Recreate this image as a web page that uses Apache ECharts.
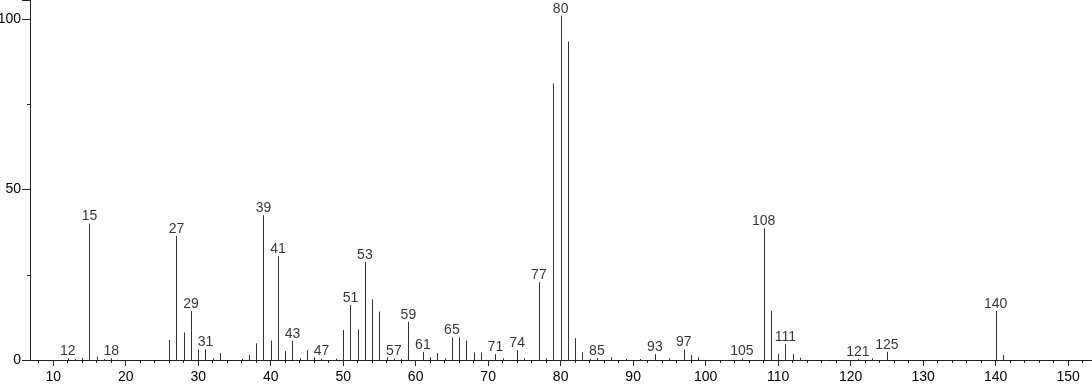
<!DOCTYPE html>
<html>
<head>
<meta charset="utf-8">
<script src="https://cdn.jsdelivr.net/npm/echarts@6/dist/echarts.min.js"></script>
<style>
html,body{margin:0;padding:0;background:#fff;}
#chart{width:1092px;height:384px;}
</style>
</head>
<body>
<div id="chart"></div>
<script>
const mz = [12,13,14,15,16,17,18,26,27,28,29,30,31,32,33,36,37,38,39,40,41,42,43,44,45,46,47,49,50,51,52,53,54,55,56,57,58,59,61,62,63,64,65,66,67,68,69,71,72,74,75,77,78,79,80,81,82,83,84,85,87,89,91,93,95,97,98,99,105,108,109,110,111,112,113,121,123,125,140,141];
const intensity = [0.5,0.3,0.6,40,1.0,0.3,0.5,5.9,36.4,8.1,14.4,3.1,3.1,0.5,2.0,0.3,1.5,4.9,42.5,5.7,30.5,2.6,5.6,0.5,2.9,0.8,0.4,0.4,8.8,16.1,9.0,28.8,17.8,14.2,0.8,0.5,0.3,11.2,2.4,0.8,2.0,0.5,6.6,6.6,5.7,2.2,2.2,1.7,0.5,2.9,0.5,22.8,0.5,81.1,101,93.4,6.4,2.3,0.3,0.6,0.8,0.3,0.3,1.7,0.5,3.1,1.5,0.8,0.5,38.6,14.5,1.8,4.7,1.8,0.7,0.3,0.5,2.4,14.4,1.5];
const labeledMz = [12,15,18,27,29,31,39,41,43,47,51,53,57,59,61,65,71,74,77,80,85,93,97,105,108,111,121,125,140];
const xLabelValues = [10,20,30,40,50,60,70,80,90,100,110,120,130,140,150];
const xMinorValues = [8,12,14,16,18,22,24,26,28,32,34,36,38,42,44,46,48,52,54,56,58,62,64,66,68,72,74,76,78,82,84,86,88,92,94,96,98,102,104,106,108,112,114,116,118,122,124,126,128,132,134,136,138,142,144,146,148,152];

const peakData = mz.map((m, i) => [m, intensity[i]]);
const labelData = labeledMz.map(m => [m, intensity[mz.indexOf(m)]]);

const chart = echarts.init(document.getElementById('chart'), null, {renderer: 'canvas'});
const axisColor = '#222';
const font = 'Liberation Sans, Arial, sans-serif';
chart.setOption({
  animation: false,
  backgroundColor: '#fff',
  grid: {left: 30, right: 0, top: 0, bottom: 24, containLabel: false, outerBoundsMode: 'none'},
  xAxis: [{
    type: 'value', min: 6.8, max: 153.3,
    splitLine: {show: false},
    axisLine: {show: true, onZero: false, lineStyle: {color: axisColor, width: 1}},
    axisTick: {show: true, inside: false, length: 6, customValues: xLabelValues, lineStyle: {color: axisColor}},
    axisLabel: {customValues: xLabelValues, color: '#000', fontSize: 14, fontFamily: font, margin: 10}
  }, {
    type: 'value', min: 6.8, max: 153.3, position: 'bottom',
    splitLine: {show: false},
    axisLine: {show: false},
    axisTick: {show: true, inside: false, length: 3, customValues: xMinorValues, lineStyle: {color: axisColor}},
    axisLabel: {show: false}
  }],
  yAxis: {
    type: 'value', min: 0, max: 105.6, interval: 50,
    splitLine: {show: false},
    axisLine: {show: true, lineStyle: {color: axisColor, width: 1}},
    axisTick: {show: true, inside: false, length: 8, lineStyle: {color: axisColor}},
    minorTick: {show: true, splitNumber: 2, length: 3, lineStyle: {color: axisColor}},
    axisLabel: {showMaxLabel: false, color: '#000', fontSize: 14, fontFamily: font, margin: 9}
  },
  series: [{
    type: 'custom',
    xAxisIndex: 0,
    data: peakData,
    renderItem: function (params, api) {
      const p0 = api.coord([api.value(0), 0]);
      const p1 = api.coord([api.value(0), api.value(1)]);
      const x = Math.round(p0[0]) + 0.5;
      return {
        type: 'line',
        shape: {x1: x, y1: p0[1], x2: x, y2: p1[1]},
        style: {stroke: '#333', lineWidth: 1}
      };
    }
  }, {
    type: 'scatter',
    xAxisIndex: 0,
    data: labelData,
    symbolSize: 0,
    silent: true,
    label: {
      show: true, position: 'top', distance: 0,
      color: '#000', fontSize: 14, fontFamily: font,
      formatter: p => String(p.value[0])
    }
  }]
});
</script>
</body>
</html>
